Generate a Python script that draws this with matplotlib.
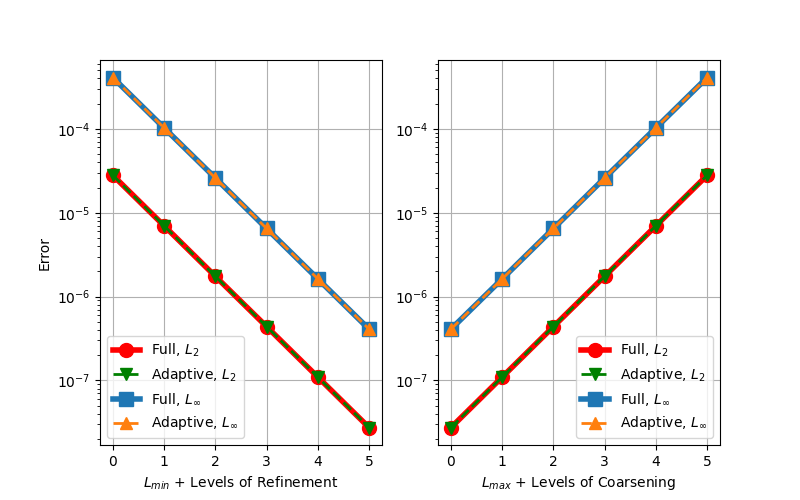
import numpy as np
import matplotlib
matplotlib.use("Agg")
import matplotlib.pyplot as plt

levels = [0, 1, 2, 3, 4, 5]

# erreurs (raffinement)
full_l2 = [2.8e-5, 7.0e-6, 1.75e-6, 4.4e-7, 1.1e-7, 2.75e-8]
adapt_l2 = [2.8e-5, 7.0e-6, 1.75e-6, 4.4e-7, 1.1e-7, 2.75e-8]
full_linf = [4.1e-4, 1.03e-4, 2.6e-5, 6.5e-6, 1.63e-6, 4.1e-7]
adapt_linf = [4.1e-4, 1.03e-4, 2.6e-5, 6.5e-6, 1.63e-6, 4.1e-7]

# erreurs (coarsening)
full_l2_c = [2.75e-8, 1.1e-7, 4.4e-7, 1.75e-6, 7.0e-6, 2.8e-5]
adapt_l2_c = [2.75e-8, 1.1e-7, 4.4e-7, 1.75e-6, 7.0e-6, 2.8e-5]
full_linf_c = [4.1e-7, 1.63e-6, 6.5e-6, 2.6e-5, 1.03e-4, 4.1e-4]
adapt_linf_c = [4.1e-7, 1.63e-6, 6.5e-6, 2.6e-5, 1.03e-4, 4.1e-4]

fig, axes = plt.subplots(1, 2, figsize=(8, 5), dpi=100)


def draw(ax, fl2, al2, finf, ainf):
    ax.semilogy(levels, fl2, 'o-', color='red', linewidth=4, markersize=10, label='Full, $L_2$')
    ax.semilogy(levels, al2, 'v--', color='green', linewidth=2, markersize=8, label='Adaptive, $L_2$')
    ax.semilogy(levels, finf, 's-', color='tab:blue', linewidth=4, markersize=10, label=r'Full, $L_\infty$')
    ax.semilogy(levels, ainf, '^--', color='tab:orange', linewidth=2, markersize=8, label=r'Adaptive, $L_\infty$')
    ax.grid(True)


draw(axes[0], full_l2, adapt_l2, full_linf, adapt_linf)
axes[0].set_xlabel('$L_{min}$ + Levels of Refinement')
axes[0].set_ylabel('Error')
axes[0].legend(loc='lower left')

draw(axes[1], full_l2_c, adapt_l2_c, full_linf_c, adapt_linf_c)
axes[1].set_xlabel('$L_{max}$ + Levels of Coarsening')
axes[1].legend(loc='lower right')

plt.savefig('out.png', dpi=100)
